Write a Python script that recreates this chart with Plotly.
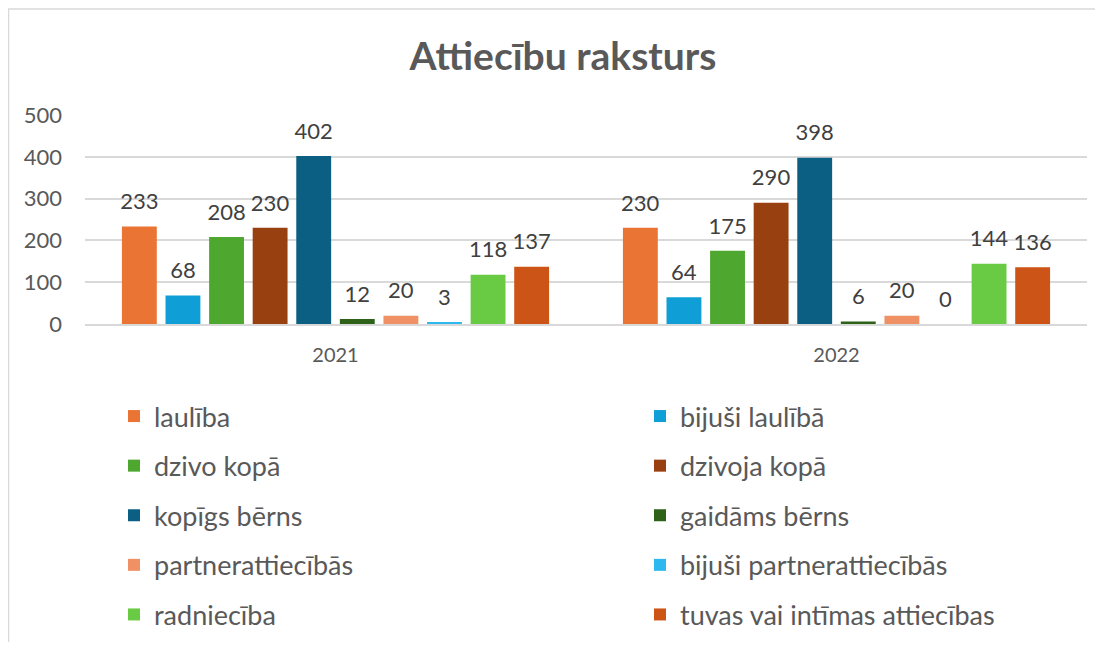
import plotly.graph_objects as go

categories = ["2021", "2022"]
series_names = [
    "laulība", "bijuši laulībā", "dzivo kopā", "dzivoja kopā", "kopīgs bērns",
    "gaidāms bērns", "partnerattiecībās", "bijuši partnerattiecībās", "radniecība",
    "tuvas vai intīmas attiecības",
]
values_2021 = [233, 68, 208, 230, 402, 12, 20, 3, 118, 137]
values_2022 = [230, 64, 175, 290, 398, 6, 20, 0, 144, 136]
colors = ["#E97434", "#0F9ED5", "#4EA72E", "#98400F", "#0B5F82",
          "#2E6219", "#EF9164", "#2DB9F0", "#69CB44", "#CB5416"]
y_ticks = [0, 100, 200, 300, 400, 500]

FONT = "Lato"
OFF = 8  # page body margin
W, H = 1103 - 2 * OFF, 650 - 2 * OFF
ml, mr, mt, mb = 85 - OFF, 8, 115 - OFF, H - (324 - OFF)


def px_x(sx):
    """screen x -> paper x"""
    return (sx - OFF - ml) / (W - ml - mr)


def px_y(sy):
    """screen y -> paper y"""
    return (H - mb - (sy - OFF)) / (H - mt - mb)


fig = go.Figure()
for i, name in enumerate(series_names):
    vals = [values_2021[i], values_2022[i]]
    fig.add_trace(go.Bar(
        name=name,
        x=categories,
        y=vals,
        marker=dict(color=colors[i], line=dict(width=0)),
        text=[f"<span style='font-size:22px'>{v}</span><br> " for v in vals],
        textposition="outside",
        constraintext="none",
        textfont=dict(family=FONT, size=9.5, color="#404040"),
        cliponaxis=False,
        legend="legend" if i % 2 == 0 else "legend2",
        legendgroup=name,
        hovertemplate="%{x}: %{y}<extra>" + name + "</extra>",
    ))

legend_common = dict(
    orientation="v",
    yanchor="top",
    xanchor="left",
    font=dict(family=FONT, size=27, color="#595959"),
    tracegroupgap=11.5,
    bgcolor="rgba(0,0,0,0)",
    itemwidth=30,
)

fig.update_layout(
    width=W, height=H,
    margin=dict(l=ml, r=mr, t=mt, b=mb, pad=0, autoexpand=False),
    paper_bgcolor="white",
    plot_bgcolor="white",
    title=dict(
        text="<b>Attiecību raksturs</b>",
        x=(563 - OFF) / W, xanchor="center",
        y=1 - (56 - OFF) / H, yanchor="middle",
        font=dict(family=FONT, size=39, color="#595959"),
    ),
    barmode="group",
    bargap=0.13,
    bargroupgap=0.2,
    font=dict(family=FONT, color="#595959"),
    xaxis=dict(
        showgrid=False,
        showline=True, linecolor="#D9D9D9", linewidth=1.5,
        ticks="", tickfont=dict(family=FONT, size=20, color="#595959"),
        ticklabelstandoff=12,
    ),
    yaxis=dict(
        range=[0, 500],
        tickvals=y_ticks,
        showgrid=True, gridcolor="#D9D9D9", gridwidth=1.5,
        zeroline=False, showline=False,
        ticks="", tickfont=dict(family=FONT, size=22, color="#595959"),
        ticklabelstandoff=22,
    ),
    legend=dict(x=px_x(114), y=px_y(392), **legend_common),
    legend2=dict(x=px_x(640), y=px_y(392), **legend_common),
    shapes=[
        dict(type="line", xref="paper", yref="paper",
             x0=px_x(8.5), x1=px_x(8.5), y0=px_y(9), y1=px_y(660),
             line=dict(color="#D9D9D9", width=1.5)),
        dict(type="line", xref="paper", yref="paper",
             x0=px_x(8), x1=px_x(1110), y0=px_y(9), y1=px_y(9),
             line=dict(color="#D9D9D9", width=1.5)),
    ],
)

fig.write_html("out.html")
